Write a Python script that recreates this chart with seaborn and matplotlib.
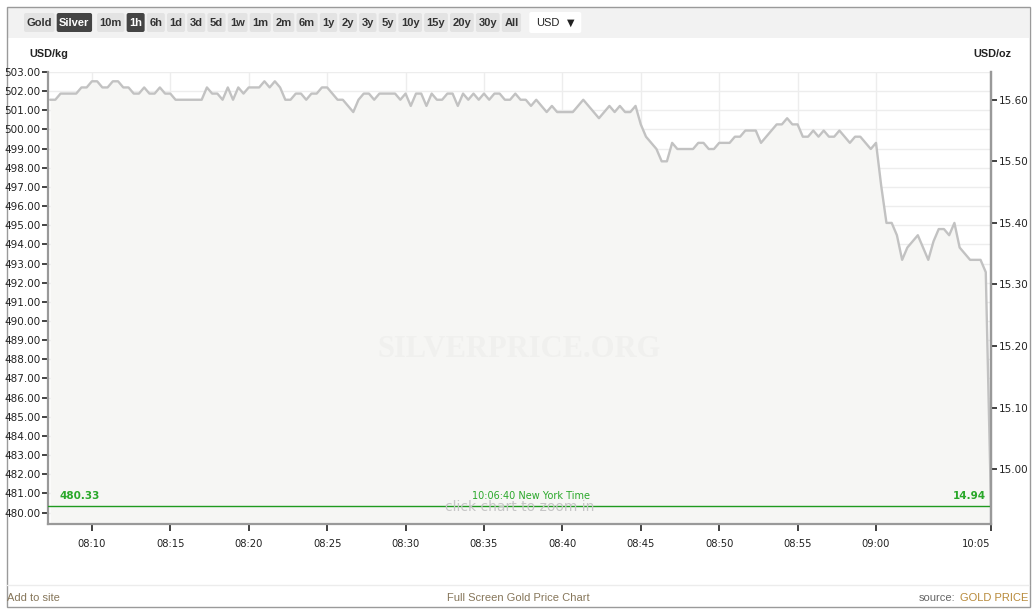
import numpy as np
import pandas as pd
import matplotlib
matplotlib.use("Agg")
import matplotlib.pyplot as plt
import seaborn as sns
from matplotlib.patches import FancyBboxPatch, Rectangle

OZ_PER_KG = 32.1507

# silver spot in USD/oz, one quote every 20 s from 08:07:20, the last quote at 10:06:40
price_oz = [
    15.60, 15.60, 15.61, 15.61, 15.61, 15.61, 15.62, 15.62, 15.63, 15.63,
    15.62, 15.62, 15.63, 15.63, 15.62, 15.62, 15.61, 15.61, 15.62, 15.61,
    15.61, 15.62, 15.61, 15.61, 15.60, 15.60, 15.60, 15.60, 15.60, 15.60,
    15.62, 15.61, 15.61, 15.60, 15.62, 15.60, 15.62, 15.61, 15.62, 15.62,
    15.62, 15.63, 15.62, 15.63, 15.62, 15.60, 15.60,
    15.61, 15.61, 15.60, 15.61, 15.61, 15.62, 15.62, 15.61, 15.60, 15.60,
    15.59, 15.58, 15.60, 15.61, 15.61, 15.60, 15.61, 15.61, 15.61, 15.61,
    15.60, 15.61, 15.59, 15.61, 15.61, 15.59, 15.61, 15.60, 15.60, 15.61,
    15.61, 15.59, 15.61, 15.60, 15.61, 15.60, 15.61, 15.60, 15.61, 15.61,
    15.60, 15.60, 15.61, 15.60, 15.60, 15.59,
    15.60, 15.59, 15.58, 15.59, 15.58, 15.58, 15.58, 15.58, 15.59, 15.60,
    15.59, 15.58, 15.57, 15.58, 15.59, 15.58, 15.59, 15.58, 15.58, 15.59,
    15.56, 15.54, 15.53, 15.52, 15.50, 15.50, 15.53, 15.52,
    15.52, 15.52, 15.52, 15.53, 15.53, 15.52, 15.52, 15.53, 15.53, 15.53,
    15.54, 15.54, 15.55, 15.55, 15.55, 15.53, 15.54, 15.55, 15.56, 15.56,
    15.57, 15.56, 15.56, 15.54, 15.54, 15.55, 15.54, 15.55, 15.54, 15.54,
    15.55, 15.54, 15.53, 15.54, 15.54, 15.53, 15.52, 15.53,
    15.46, 15.40, 15.40, 15.38, 15.34, 15.36, 15.37, 15.38, 15.36, 15.34,
    15.37, 15.39, 15.39, 15.38, 15.40, 15.36, 15.35, 15.34, 15.34, 15.34,
    15.32, 14.94,
]
first_time = "08:07:20"
last_time = "10:06:40"
tick_labels = ["08:10", "08:15", "08:20", "08:25", "08:30", "08:35",
               "08:40", "08:45", "08:50", "08:55", "09:00", "10:05"]
kg_ticks = list(range(480, 504))
oz_ticks = [15.00, 15.10, 15.20, 15.30, 15.40, 15.50, 15.60]
current_kg = 480.33
current_oz = 14.94
buttons = ["Gold", "Silver", "10m", "1h", "6h", "1d", "3d", "5d", "1w", "1m", "2m",
           "6m", "1y", "2y", "3y", "5y", "10y", "15y", "20y", "30y", "All"]
active = ["Silver", "1h"]

# ordinal time axis: quotes sit at equal spacing, gaps are squeezed out
secs = pd.to_timedelta(first_time).total_seconds() + 20 * np.arange(len(price_oz) - 1)
secs = np.append(secs, pd.to_timedelta(last_time).total_seconds())
df = pd.DataFrame({"pos": np.arange(len(price_oz)),
                   "usd_kg": np.array(price_oz) * OZ_PER_KG})
tick_secs = [pd.to_timedelta(t + ":00").total_seconds() for t in tick_labels]
tick_pos = np.interp(tick_secs, secs, df["pos"])

sns.set_theme(style="white")
plt.rcParams["font.family"] = ["DejaVu Sans"]

fig = plt.figure(figsize=(10.36, 6.12), dpi=100)

# page chrome in pixel coordinates
bg = fig.add_axes([0, 0, 1, 1])
bg.set_xlim(0, 1036)
bg.set_ylim(612, 0)
bg.axis("off")
bg.add_patch(Rectangle((7, 7), 1022, 31, facecolor="#f2f2f2", edgecolor="none"))
bg.add_patch(Rectangle((6.5, 6.5), 1023, 600, fill=False, edgecolor="#9a9a9a", lw=1))
bg.plot([7, 1029], [585, 585], color="#ececec", lw=1)

renderer = fig.canvas.get_renderer()
x = 24
for b in buttons:
    on = b in active
    t = bg.text(x + 2.5, 22.5, b, fontsize=8, fontweight="bold", family="Liberation Sans",
                color="white" if on else "#333333", va="center", ha="left", zorder=3)
    w = t.get_window_extent(renderer).width
    bg.add_patch(FancyBboxPatch((x, 13), w + 5, 19, boxstyle="round,pad=0,rounding_size=2",
                                facecolor="#444444" if on else "#e3e3e3", edgecolor="none", zorder=2))
    x += w + 5 + (5 if b == "Silver" else 2.2)
bg.add_patch(FancyBboxPatch((x + 6, 12), 52, 21, boxstyle="round,pad=0,rounding_size=2",
                            facecolor="white", edgecolor="none", zorder=2))
bg.text(x + 13, 22.5, "USD", fontsize=8, family="Liberation Sans", color="#222222",
        va="center", ha="left", zorder=3)
bg.text(x + 47, 22.5, "\u25bc", fontsize=7, family=["DejaVu Sans"], color="#222222",
        va="center", ha="center", zorder=3)

bg.text(49, 54, "USD/kg", fontsize=7.8, fontweight="bold", family="Liberation Sans",
        color="#222222", ha="center", va="center")
bg.text(992, 54, "USD/oz", fontsize=7.8, fontweight="bold", family="Liberation Sans",
        color="#222222", ha="center", va="center")

bg.text(7, 598, "Add to site", fontsize=8, family="Liberation Sans", color="#86765a",
        ha="left", va="center")
bg.text(518, 598, "Full Screen Gold Price Chart", fontsize=8, family="Liberation Sans",
        color="#86765a", ha="center", va="center")
src = bg.text(1028, 598, "GOLD PRICE", fontsize=8, family="Liberation Sans", color="#b88a3a",
              ha="right", va="center")
src_w = src.get_window_extent(renderer).width
bg.text(1028 - src_w - 4, 598, "source:", fontsize=8, family="Liberation Sans", color="#666666",
        ha="right", va="center")

# main chart
ax = fig.add_axes([48 / 1036, 1 - 524 / 612, (991 - 48) / 1036, (524 - 72) / 612])
ax.set_zorder(1)
ylo, yhi = 479.4, 503.0
ax.fill_between(df["pos"], df["usd_kg"], ylo, color="#f6f6f4", lw=0, zorder=1)
sns.lineplot(data=df, x="pos", y="usd_kg", ax=ax, color="#c2c2c2", linewidth=1.7, zorder=3)
ax.axhline(current_kg, color="#1f9a1f", lw=1, zorder=4)

ax.set_xlim(-0.4, df["pos"].iloc[-1])
ax.set_ylim(ylo, yhi)
ax.set_xticks(tick_pos)
ax.set_xticklabels(tick_labels)
ax.set_yticks(kg_ticks)
ax.set_yticklabels([f"{v:.2f}" for v in kg_ticks])
ax.set_xlabel("")
ax.set_ylabel("")
ax.grid(True, color="#ededed", lw=1)
ax.set_axisbelow(True)
for side in ["left", "bottom", "right"]:
    ax.spines[side].set_color("#999999")
    ax.spines[side].set_linewidth(1.6)
ax.spines["top"].set_visible(False)
ax.tick_params(axis="y", length=4, width=1.3, color="#333333", pad=1.5,
               labelsize=7.5, labelcolor="#222222", left=True)
ax.tick_params(axis="x", length=5, width=1.3, color="#333333", pad=6,
               labelsize=7.2, labelcolor="#222222", bottom=True)
ax.get_xticklabels()[-1].set_horizontalalignment("right")

ax2 = ax.twinx()
ax2.set_zorder(2)
ax2.patch.set_visible(False)
ax2.set_ylim(ylo / OZ_PER_KG, yhi / OZ_PER_KG)
ax2.set_yticks(oz_ticks)
ax2.set_yticklabels([f"{v:.2f}" for v in oz_ticks])
ax2.grid(False)
for side in ["left", "bottom", "top"]:
    ax2.spines[side].set_visible(False)
ax2.spines["right"].set_color("#999999")
ax2.spines["right"].set_linewidth(1.6)
ax2.tick_params(axis="y", length=4, width=1.3, color="#333333", pad=1.5,
                labelsize=7.5, labelcolor="#222222", right=True)

# annotations on the current-price line
ax.text(0.012, current_kg + 0.25, f"{current_kg:.2f}", transform=ax.get_yaxis_transform(),
        fontsize=7.5, fontweight="bold", color="#2aa82a", ha="left", va="bottom", zorder=5)
ax.text(0.995, current_kg + 0.25, f"{current_oz:.2f}", transform=ax.get_yaxis_transform(),
        fontsize=7.5, fontweight="bold", color="#2aa82a", ha="right", va="bottom", zorder=5)
ax.text(0.512, current_kg + 0.25, f"{last_time} New York Time", transform=ax.get_yaxis_transform(),
        fontsize=7, color="#2aa82a", ha="center", va="bottom", zorder=5)
ax.text(0.5, current_kg - 0.05, "click chart to zoom in", transform=ax.get_yaxis_transform(),
        fontsize=10, color="#c6c6c6", ha="center", va="center", zorder=4)
ax.text(0.5, 0.385, "SILVERPRICE.ORG", transform=ax.transAxes, fontsize=22,
        fontweight="bold", family="Liberation Serif", color="#f0f0ee", ha="center",
        va="center", zorder=2)

fig.savefig("out.png", dpi=100)
